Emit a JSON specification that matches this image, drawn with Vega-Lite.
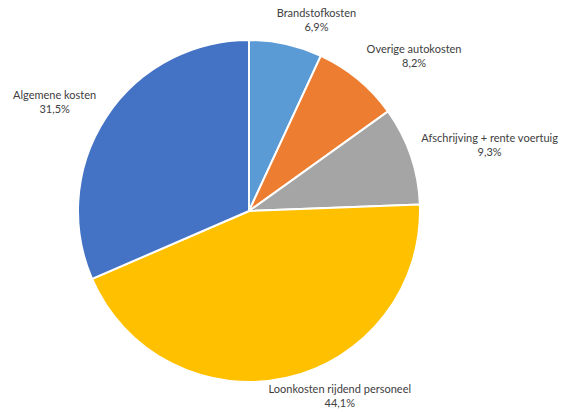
{
  "$schema": "https://vega.github.io/schema/vega-lite/v6.json",
  "width": 498,
  "height": 402,
  "autosize": {"type": "none"},
  "padding": {"left": 0, "top": 10, "right": 76, "bottom": 0},
  "background": "white",
  "config": {"view": {"stroke": null}, "text": {"font": "Lato"}},
  "data": {"values": [
    {"categorie": "Brandstofkosten", "aandeel": 6.9, "volgorde": 1},
    {"categorie": "Overige autokosten", "aandeel": 8.2, "volgorde": 2},
    {"categorie": "Afschrijving + rente voertuig", "aandeel": 9.3, "volgorde": 3},
    {"categorie": "Loonkosten rijdend personeel", "aandeel": 44.1, "volgorde": 4},
    {"categorie": "Algemene kosten", "aandeel": 31.5, "volgorde": 5}
  ]},
  "transform": [
    {"window": [{"op": "sum", "field": "aandeel", "as": "cum"}], "sort": [{"field": "volgorde"}], "frame": [null, 0]},
    {"calculate": "datum.cum - datum.aandeel / 2", "as": "midden"},
    {"calculate": "[datum.categorie, replace(format(datum.aandeel, '.1f'), '.', ',') + '%']", "as": "label"}
  ],
  "layer": [
    {
      "mark": {"type": "arc", "radius": 171, "stroke": "white", "strokeWidth": 2},
      "encoding": {
        "theta": {"field": "aandeel", "type": "quantitative", "stack": true, "scale": {"domain": [0, 100]}},
        "order": {"field": "volgorde", "type": "quantitative"},
        "color": {
          "field": "categorie", "type": "nominal",
          "scale": {
            "domain": ["Brandstofkosten", "Overige autokosten", "Afschrijving + rente voertuig", "Loonkosten rijdend personeel", "Algemene kosten"],
            "range": ["#5B9BD5", "#ED7D31", "#A5A5A5", "#FFC000", "#4472C4"]
          },
          "legend": null
        }
      }
    },
    {
      "transform": [{"filter": "datum.volgorde == 1"}],
      "mark": {"type": "text", "radius": 202, "dx": 24, "dy": 0, "fontSize": 11, "color": "#404040", "lineHeight": 14, "baseline": "middle", "align": "center"},
      "encoding": {"theta": {"field": "midden", "type": "quantitative", "scale": {"domain": [0, 100]}}, "text": {"field": "label"}}
    },
    {
      "transform": [{"filter": "datum.volgorde == 2"}],
      "mark": {"type": "text", "radius": 226, "dx": 21, "dy": 13, "fontSize": 11, "color": "#404040", "lineHeight": 14, "baseline": "middle", "align": "center"},
      "encoding": {"theta": {"field": "midden", "type": "quantitative", "scale": {"domain": [0, 100]}}, "text": {"field": "label"}}
    },
    {
      "transform": [{"filter": "datum.volgorde == 3"}],
      "mark": {"type": "text", "radius": 249, "dx": 5, "dy": 9, "fontSize": 11, "color": "#404040", "lineHeight": 14, "baseline": "middle", "align": "center"},
      "encoding": {"theta": {"field": "midden", "type": "quantitative", "scale": {"domain": [0, 100]}}, "text": {"field": "label"}}
    },
    {
      "transform": [{"filter": "datum.volgorde == 4"}],
      "mark": {"type": "text", "radius": 207, "dx": 45, "dy": -23, "fontSize": 11, "color": "#404040", "lineHeight": 14, "baseline": "middle", "align": "center"},
      "encoding": {"theta": {"field": "midden", "type": "quantitative", "scale": {"domain": [0, 100]}}, "text": {"field": "label"}}
    },
    {
      "transform": [{"filter": "datum.volgorde == 5"}],
      "mark": {"type": "text", "radius": 223, "dx": -8, "dy": 7, "fontSize": 11, "color": "#404040", "lineHeight": 14, "baseline": "middle", "align": "center"},
      "encoding": {"theta": {"field": "midden", "type": "quantitative", "scale": {"domain": [0, 100]}}, "text": {"field": "label"}}
    }
  ]
}
